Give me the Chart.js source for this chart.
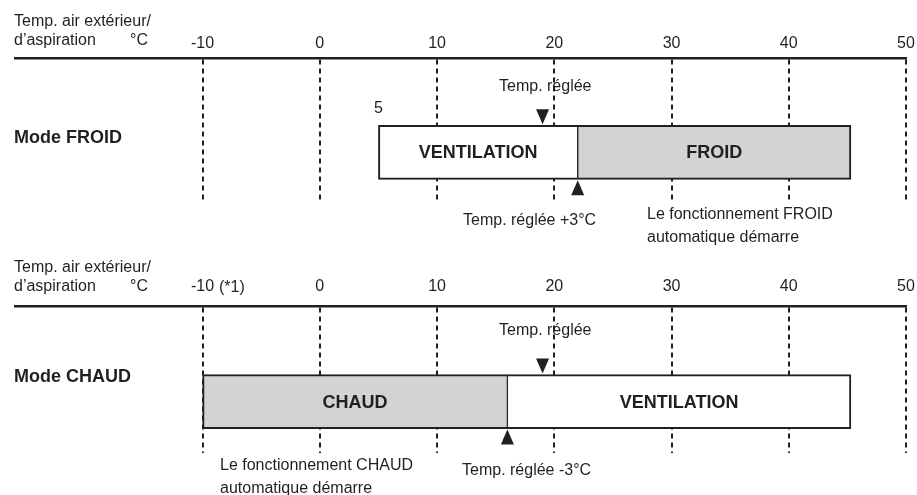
<!DOCTYPE html>
<html>
<head>
<meta charset="utf-8">
<script src="https://cdn.jsdelivr.net/npm/chart.js@4.4.1/dist/chart.umd.min.js"></script>
<style>
  body { margin: 0; background: #fff; width: 917px; height: 495px; overflow: hidden; position: relative; }
  canvas { position: absolute; left: 0; }
  #froid { top: 0; }
  #chaud { top: 245px; }
</style>
</head>
<body>
<canvas id="froid" width="917" height="245"></canvas>
<canvas id="chaud" width="917" height="250"></canvas>
<script>
// axe des températures (°C)
const TICKS = [-10, 0, 10, 20, 30, 40, 50];
const TICK_LABELS = ['-10', '0', '10', '20', '30', '40', '50'];

// Mode FROID
const FROID_ZONES = ['VENTILATION', 'FROID'];
const FROID_RANGES = [[5, 22], [22, 45.3]];
const FROID_SET = 19;     // Temp. réglée
const FROID_SWITCH = 22;  // Temp. réglée +3°C

// Mode CHAUD
const CHAUD_ZONES = ['CHAUD', 'VENTILATION'];
const CHAUD_RANGES = [[-10, 16], [16, 45.3]];
const CHAUD_SET = 19;     // Temp. réglée
const CHAUD_SWITCH = 16;  // Temp. réglée -3°C

const INK = '#231f20';
const GREY = '#d1d3d4';
const FONT = '"Liberation Sans", Arial, Helvetica, sans-serif';
Chart.defaults.font.family = FONT;
Chart.defaults.color = INK;

function triangle(ctx, x, y, dir) {
    // dir = 1 : pointe vers le haut, -1 : pointe vers le bas
    ctx.beginPath();
    ctx.moveTo(x, y);
    ctx.lineTo(x - 6.5, y + dir * 15);
    ctx.lineTo(x + 6.5, y + dir * 15);
    ctx.closePath();
    ctx.fill();
}

function notesPlugin(zones, setTemp, switchTemp, mode, notes, startNote) {
    return {
        id: 'notes',
        afterDatasetsDraw(chart) {
            const ctx = chart.ctx;
            const xs = chart.scales.x;
            const bars = chart.getDatasetMeta(0).data;
            ctx.save();
            ctx.fillStyle = INK;

            // texte des zones
            ctx.font = 'bold 18px ' + FONT;
            ctx.textAlign = 'center';
            ctx.textBaseline = 'middle';
            bars.forEach((bar, i) => {
                ctx.fillText(zones[i], (bar.x + bar.base) / 2, bar.y + 1);
            });

            // repères Temp. réglée
            const top = bars[0].y - bars[0].height / 2;
            const bottom = bars[0].y + bars[0].height / 2;
            triangle(ctx, xs.getPixelForValue(setTemp), top - 1, -1);
            triangle(ctx, xs.getPixelForValue(switchTemp), bottom + 1, 1);

            // libellé du mode
            ctx.textAlign = 'left';
            ctx.textBaseline = 'alphabetic';
            ctx.fillText(mode.text, 14, mode.y);

            ctx.font = '16px ' + FONT;
            notes.forEach(n => ctx.fillText(n[0], n[1], n[2]));
            if (startNote) {
                ctx.textAlign = 'center';
                ctx.fillText(startNote[0], xs.getPixelForValue(startNote[1]), startNote[2]);
            }
            ctx.restore();
        }
    };
}

function makeChart(id, zones, ranges, setTemp, switchTemp, tickPad, padTop, mode, notes, startNote) {
    return new Chart(document.getElementById(id), {
        type: 'bar',
        data: {
            datasets: [{
                data: ranges.map(r => ({ x: r, y: 0 })),
                backgroundColor: zones.map(z => z === 'VENTILATION' ? '#ffffff' : GREY),
                borderColor: INK,
                borderWidth: ctx => ctx.dataIndex === 0
                    ? { left: 2, top: 2, bottom: 2, right: 1 }
                    : { left: 1, top: 2, bottom: 2, right: 2 },
                borderSkipped: false,
                barThickness: 54
            }]
        },
        options: {
            indexAxis: 'y',
            responsive: false,
            animation: false,
            events: [],
            layout: { padding: { top: padTop, left: 15, right: 11, bottom: 42 } },
            plugins: { legend: { display: false }, tooltip: { enabled: false } },
            scales: {
                x: {
                    type: 'linear',
                    position: 'top',
                    min: -26,
                    max: 50,
                    afterBuildTicks: axis => { axis.ticks = TICKS.map(v => ({ value: v })); },
                    afterFit: axis => { axis.paddingLeft = 0; axis.paddingRight = 0; },
                    ticks: {
                        callback: (v, i) => TICK_LABELS[i],
                        font: { size: 16 },
                        color: INK,
                        padding: tickPad,
                        maxRotation: 0,
                        autoSkip: false
                    },
                    grid: { color: INK, lineWidth: 2, drawTicks: false },
                    border: { display: true, color: INK, width: 2.5, dash: [5, 4] }
                },
                y: { type: 'linear', display: false, offset: false, min: -0.35, max: 0.65 }
            }
        },
        plugins: [notesPlugin(zones, setTemp, switchTemp, mode, notes, startNote)]
    });
}

makeChart('froid', FROID_ZONES, FROID_RANGES, FROID_SET, FROID_SWITCH, 5.5, 28,
    { text: 'Mode FROID', y: 143 },
    [
        ['Temp. air extérieur/', 14, 26],
        ['d’aspiration', 14, 45],
        ['°C', 130, 45],
        ['Temp. réglée', 499, 91],
        ['Temp. réglée +3°C', 463, 225],
        ['Le fonctionnement FROID', 647, 219],
        ['automatique démarre', 647, 242]
    ],
    ['5', FROID_RANGES[0][0], 113]);

makeChart('chaud', CHAUD_ZONES, CHAUD_RANGES, CHAUD_SET, CHAUD_SWITCH, 10, 22,
    { text: 'Mode CHAUD', y: 137 },
    [
        ['Temp. air extérieur/', 14, 27],
        ['d’aspiration', 14, 46],
        ['°C', 130, 46],
        ['(*1)', 219, 47],
        ['Temp. réglée', 499, 90],
        ['Temp. réglée -3°C', 462, 230],
        ['Le fonctionnement CHAUD', 220, 225],
        ['automatique démarre', 220, 248]
    ],
    null);
</script>
</body>
</html>
